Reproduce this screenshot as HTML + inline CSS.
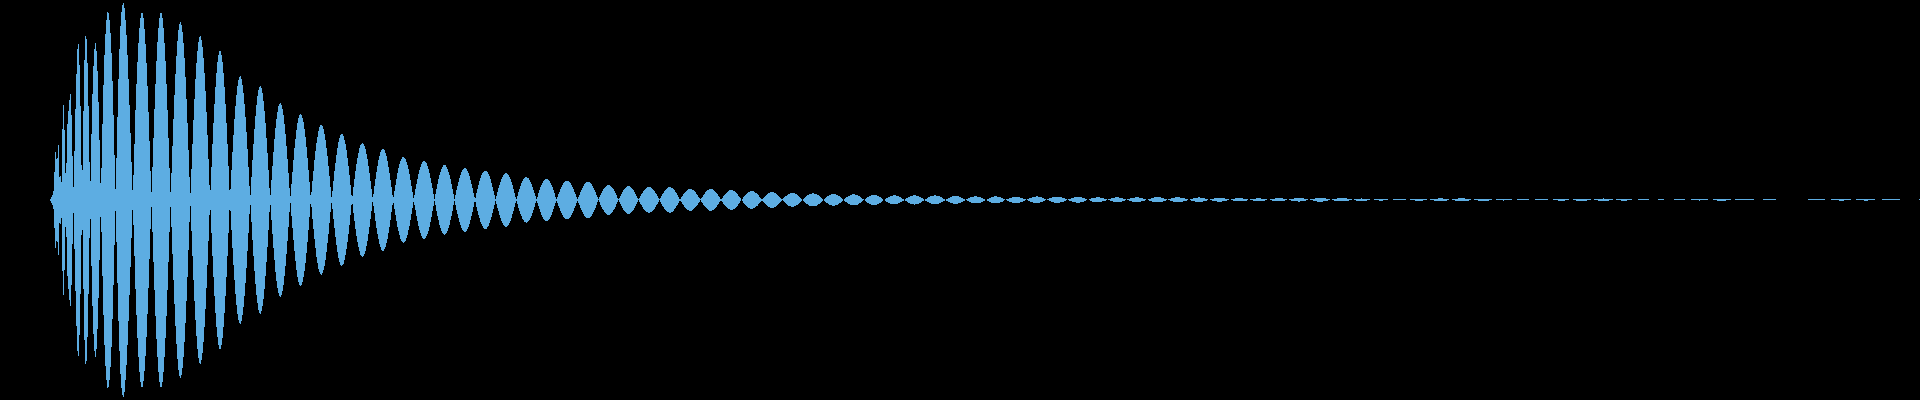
<!DOCTYPE html>
<html><head><meta charset="utf-8"><style>
html,body{margin:0;padding:0;background:#000;width:1920px;height:400px;overflow:hidden}
svg{display:block}
</style></head><body>
<svg width="1920" height="400" viewBox="0 0 1920 400" shape-rendering="crispEdges"><rect width="1920" height="400" fill="#000"/><path fill="#5DADE2" d="M50 199h1v2h-1zM51 197h1v6h-1zM52 195h1v10h-1zM53 191h1v18h-1zM54 172h1v56h-1zM55 152h1v96h-1zM56 159h1v82h-1zM57 158h1v84h-1zM58 145h1v110h-1zM59 177h1v46h-1zM60 176h1v48h-1zM61 182h1v36h-1zM62 129h1v142h-1zM63 105h1v190h-1zM64 130h1v140h-1zM65 173h1v54h-1zM66 163h1v74h-1zM67 124h1v152h-1zM68 111h1v178h-1zM69 100h1v200h-1zM70 94h1v212h-1zM71 115h1v170h-1zM72 156h1v88h-1zM73 187h1v26h-1zM74 151h1v98h-1zM75 109h1v182h-1zM76 74h1v252h-1zM77 49h1v302h-1zM78 44h1v312h-1zM79 65h1v270h-1zM80 106h1v188h-1zM81 165h1v70h-1zM82 170h1v60h-1zM83 111h1v178h-1zM84 60h1v280h-1zM85 36h1v328h-1zM86 39h1v322h-1zM87 63h1v274h-1zM88 106h1v188h-1zM89 162h1v76h-1zM90 181h1v38h-1zM91 134h1v132h-1zM92 94h1v212h-1zM93 66h1v268h-1zM94 49h1v302h-1zM95 43h1v314h-1zM96 51h1v298h-1zM97 71h1v258h-1zM98 102h1v196h-1zM99 140h1v120h-1zM100 183h1v34h-1zM101 168h1v64h-1zM102 124h1v152h-1zM103 85h1v230h-1zM104 55h1v290h-1zM105 34h1v332h-1zM106 20h1v360h-1zM107 12h1v376h-1zM108 13h1v374h-1zM109 20h1v360h-1zM110 33h1v334h-1zM111 53h1v294h-1zM112 81h1v238h-1zM113 115h1v170h-1zM114 155h1v90h-1zM115 189h1v22h-1zM116 158h1v84h-1zM117 117h1v166h-1zM118 79h1v242h-1zM119 49h1v302h-1zM120 26h1v348h-1zM121 12h1v376h-1zM122 5h1v390h-1zM123 3h1v394h-1zM124 8h1v384h-1zM125 20h1v360h-1zM126 35h1v330h-1zM127 55h1v290h-1zM128 79h1v242h-1zM129 105h1v190h-1zM130 133h1v134h-1zM131 162h1v76h-1zM132 190h1v20h-1zM133 175h1v50h-1zM134 144h1v112h-1zM135 110h1v179h-1zM136 84h1v231h-1zM137 62h1v276h-1zM138 43h1v314h-1zM139 28h1v344h-1zM140 18h1v364h-1zM141 13h1v374h-1zM142 13h1v374h-1zM143 18h1v363h-1zM144 29h1v342h-1zM145 44h1v312h-1zM146 63h1v274h-1zM147 86h1v228h-1zM148 112h1v176h-1zM149 141h1v118h-1zM150 171h1v58h-1zM151 192h1v15h-1zM152 167h1v65h-1zM153 138h1v124h-1zM154 109h1v181h-1zM155 84h1v232h-1zM156 61h1v278h-1zM157 42h1v315h-1zM158 28h1v344h-1zM159 18h1v364h-1zM160 13h1v374h-1zM161 13h1v374h-1zM162 18h1v364h-1zM163 28h1v344h-1zM164 43h1v314h-1zM165 61h1v277h-1zM166 84h1v232h-1zM167 110h1v180h-1zM168 138h1v124h-1zM169 168h1v64h-1zM170 192h1v15h-1zM171 173h1v54h-1zM172 146h1v108h-1zM173 119h1v161h-1zM174 95h1v209h-1zM175 74h1v252h-1zM176 56h1v288h-1zM177 41h1v318h-1zM178 30h1v340h-1zM179 24h1v352h-1zM180 22h1v356h-1zM181 25h1v350h-1zM182 32h1v336h-1zM183 43h1v314h-1zM184 58h1v284h-1zM185 77h1v246h-1zM186 99h1v202h-1zM187 123h1v154h-1zM188 150h1v100h-1zM189 177h1v45h-1zM190 193h1v13h-1zM191 169h1v62h-1zM192 144h1v112h-1zM193 120h1v160h-1zM194 99h1v202h-1zM195 79h1v241h-1zM196 63h1v273h-1zM197 51h1v298h-1zM198 42h1v316h-1zM199 37h1v326h-1zM200 36h1v328h-1zM201 40h1v320h-1zM202 47h1v306h-1zM203 58h1v284h-1zM204 73h1v254h-1zM205 91h1v218h-1zM206 112h1v176h-1zM207 135h1v130h-1zM208 159h1v82h-1zM209 185h1v30h-1zM210 190h1v20h-1zM211 167h1v66h-1zM212 144h1v112h-1zM213 123h1v154h-1zM214 104h1v192h-1zM215 87h1v226h-1zM216 73h1v254h-1zM217 62h1v275h-1zM218 55h1v290h-1zM219 51h1v298h-1zM220 51h1v298h-1zM221 55h1v290h-1zM222 62h1v276h-1zM223 73h1v254h-1zM224 87h1v226h-1zM225 104h1v192h-1zM226 123h1v154h-1zM227 144h1v112h-1zM228 166h1v67h-1zM229 190h1v20h-1zM230 189h1v22h-1zM231 170h1v60h-1zM232 152h1v96h-1zM233 135h1v130h-1zM234 119h1v161h-1zM235 106h1v188h-1zM236 95h1v210h-1zM237 86h1v228h-1zM238 80h1v240h-1zM239 77h1v246h-1zM240 76h1v248h-1zM241 79h1v242h-1zM242 85h1v230h-1zM243 93h1v214h-1zM244 104h1v192h-1zM245 117h1v166h-1zM246 132h1v136h-1zM247 149h1v102h-1zM248 167h1v66h-1zM249 186h1v28h-1zM250 195h1v10h-1zM251 177h1v45h-1zM252 160h1v80h-1zM253 144h1v112h-1zM254 129h1v142h-1zM255 116h1v168h-1zM256 105h1v190h-1zM257 96h1v207h-1zM258 90h1v220h-1zM259 87h1v226h-1zM260 86h1v228h-1zM261 88h1v223h-1zM262 93h1v213h-1zM263 101h1v198h-1zM264 111h1v178h-1zM265 123h1v153h-1zM266 138h1v124h-1zM267 153h1v94h-1zM268 170h1v60h-1zM269 188h1v24h-1zM270 195h1v10h-1zM271 180h1v40h-1zM272 166h1v68h-1zM273 152h1v96h-1zM274 139h1v121h-1zM275 128h1v144h-1zM276 119h1v162h-1zM277 112h1v176h-1zM278 106h1v187h-1zM279 104h1v192h-1zM280 103h1v194h-1zM281 105h1v190h-1zM282 109h1v182h-1zM283 115h1v170h-1zM284 124h1v152h-1zM285 134h1v132h-1zM286 146h1v108h-1zM287 159h1v82h-1zM288 173h1v54h-1zM289 188h1v24h-1zM290 196h1v7h-1zM291 184h1v32h-1zM292 172h1v56h-1zM293 160h1v80h-1zM294 148h1v103h-1zM295 139h1v122h-1zM296 130h1v140h-1zM297 123h1v154h-1zM298 118h1v164h-1zM299 115h1v170h-1zM300 114h1v172h-1zM301 115h1v170h-1zM302 118h1v164h-1zM303 122h1v155h-1zM304 129h1v142h-1zM305 137h1v126h-1zM306 147h1v106h-1zM307 158h1v84h-1zM308 170h1v60h-1zM309 182h1v35h-1zM310 195h1v9h-1zM311 192h1v15h-1zM312 181h1v38h-1zM313 171h1v58h-1zM314 160h1v79h-1zM315 151h1v97h-1zM316 143h1v114h-1zM317 137h1v126h-1zM318 131h1v138h-1zM319 127h1v145h-1zM320 125h1v149h-1zM321 125h1v150h-1zM322 126h1v147h-1zM323 129h1v141h-1zM324 134h1v132h-1zM325 140h1v120h-1zM326 148h1v104h-1zM327 156h1v87h-1zM328 166h1v68h-1zM329 176h1v47h-1zM330 187h1v25h-1zM331 197h1v6h-1zM332 191h1v18h-1zM333 181h1v38h-1zM334 171h1v57h-1zM335 163h1v74h-1zM336 155h1v90h-1zM337 148h1v104h-1zM338 142h1v116h-1zM339 138h1v124h-1zM340 135h1v130h-1zM341 134h1v132h-1zM342 134h1v131h-1zM343 136h1v128h-1zM344 140h1v120h-1zM345 144h1v111h-1zM346 150h1v99h-1zM347 158h1v84h-1zM348 166h1v68h-1zM349 175h1v50h-1zM350 185h1v30h-1zM351 195h1v10h-1zM352 196h1v8h-1zM353 187h1v26h-1zM354 179h1v42h-1zM355 171h1v58h-1zM356 164h1v72h-1zM357 158h1v84h-1zM358 153h1v94h-1zM359 148h1v103h-1zM360 145h1v110h-1zM361 144h1v112h-1zM362 143h1v114h-1zM363 144h1v112h-1zM364 146h1v108h-1zM365 149h1v102h-1zM366 154h1v92h-1zM367 159h1v82h-1zM368 166h1v68h-1zM369 173h1v54h-1zM370 181h1v38h-1zM371 189h1v22h-1zM372 197h1v5h-1zM373 194h1v12h-1zM374 186h1v27h-1zM375 179h1v42h-1zM376 172h1v56h-1zM377 166h1v68h-1zM378 160h1v79h-1zM379 156h1v88h-1zM380 152h1v95h-1zM381 150h1v100h-1zM382 149h1v102h-1zM383 149h1v102h-1zM384 150h1v99h-1zM385 153h1v94h-1zM386 156h1v87h-1zM387 161h1v78h-1zM388 167h1v66h-1zM389 173h1v54h-1zM390 180h1v40h-1zM391 187h1v25h-1zM392 195h1v10h-1zM393 197h1v6h-1zM394 191h1v18h-1zM395 185h1v30h-1zM396 179h1v42h-1zM397 173h1v54h-1zM398 168h1v63h-1zM399 164h1v71h-1zM400 161h1v78h-1zM401 159h1v82h-1zM402 157h1v85h-1zM403 157h1v86h-1zM404 158h1v84h-1zM405 159h1v82h-1zM406 162h1v76h-1zM407 165h1v70h-1zM408 169h1v61h-1zM409 174h1v52h-1zM410 180h1v40h-1zM411 186h1v28h-1zM412 192h1v16h-1zM413 198h1v4h-1zM414 195h1v10h-1zM415 189h1v21h-1zM416 184h1v32h-1zM417 179h1v42h-1zM418 174h1v52h-1zM419 170h1v60h-1zM420 167h1v66h-1zM421 164h1v72h-1zM422 162h1v76h-1zM423 161h1v78h-1zM424 161h1v78h-1zM425 162h1v76h-1zM426 163h1v73h-1zM427 166h1v68h-1zM428 169h1v62h-1zM429 173h1v54h-1zM430 178h1v44h-1zM431 183h1v34h-1zM432 188h1v23h-1zM433 194h1v12h-1zM434 199h1v2h-1zM435 194h1v11h-1zM436 189h1v22h-1zM437 184h1v32h-1zM438 179h1v41h-1zM439 175h1v50h-1zM440 172h1v56h-1zM441 169h1v62h-1zM442 167h1v66h-1zM443 165h1v69h-1zM444 165h1v70h-1zM445 165h1v69h-1zM446 167h1v66h-1zM447 169h1v62h-1zM448 172h1v56h-1zM449 175h1v50h-1zM450 179h1v41h-1zM451 184h1v32h-1zM452 189h1v22h-1zM453 194h1v11h-1zM454 199h1v2h-1zM455 195h1v10h-1zM456 190h1v20h-1zM457 186h1v28h-1zM458 182h1v36h-1zM459 178h1v44h-1zM460 175h1v50h-1zM461 172h1v56h-1zM462 170h1v60h-1zM463 169h1v62h-1zM464 168h1v64h-1zM465 168h1v64h-1zM466 169h1v62h-1zM467 171h1v58h-1zM468 173h1v54h-1zM469 176h1v48h-1zM470 180h1v40h-1zM471 184h1v32h-1zM472 188h1v24h-1zM473 193h1v14h-1zM474 197h1v5h-1zM475 198h1v4h-1zM476 193h1v14h-1zM477 189h1v22h-1zM478 185h1v30h-1zM479 181h1v37h-1zM480 178h1v44h-1zM481 175h1v49h-1zM482 173h1v53h-1zM483 172h1v56h-1zM484 171h1v58h-1zM485 171h1v58h-1zM486 171h1v58h-1zM487 172h1v55h-1zM488 174h1v52h-1zM489 176h1v47h-1zM490 179h1v41h-1zM491 183h1v34h-1zM492 187h1v26h-1zM493 191h1v18h-1zM494 195h1v10h-1zM495 199h1v2h-1zM496 196h1v8h-1zM497 192h1v16h-1zM498 188h1v23h-1zM499 185h1v30h-1zM500 182h1v36h-1zM501 179h1v42h-1zM502 177h1v46h-1zM503 175h1v50h-1zM504 174h1v52h-1zM505 173h1v54h-1zM506 173h1v54h-1zM507 174h1v52h-1zM508 175h1v50h-1zM509 177h1v46h-1zM510 179h1v42h-1zM511 182h1v36h-1zM512 185h1v29h-1zM513 189h1v22h-1zM514 193h1v14h-1zM515 197h1v6h-1zM516 199h1v2h-1zM517 196h1v8h-1zM518 192h1v16h-1zM519 189h1v22h-1zM520 186h1v28h-1zM521 183h1v33h-1zM522 181h1v38h-1zM523 179h1v41h-1zM524 178h1v44h-1zM525 177h1v45h-1zM526 177h1v46h-1zM527 178h1v44h-1zM528 178h1v43h-1zM529 180h1v40h-1zM530 182h1v36h-1zM531 184h1v32h-1zM532 187h1v26h-1zM533 190h1v20h-1zM534 193h1v14h-1zM535 196h1v7h-1zM536 199h1v2h-1zM537 197h1v6h-1zM538 193h1v13h-1zM539 190h1v19h-1zM540 187h1v25h-1zM541 185h1v30h-1zM542 183h1v34h-1zM543 181h1v38h-1zM544 180h1v40h-1zM545 179h1v42h-1zM546 179h1v42h-1zM547 179h1v42h-1zM548 180h1v40h-1zM549 181h1v38h-1zM550 183h1v34h-1zM551 185h1v30h-1zM552 187h1v25h-1zM553 190h1v19h-1zM554 193h1v13h-1zM555 197h1v6h-1zM556 199h1v2h-1zM557 197h1v6h-1zM558 194h1v12h-1zM559 192h1v16h-1zM560 189h1v22h-1zM561 187h1v26h-1zM562 185h1v30h-1zM563 183h1v34h-1zM564 182h1v36h-1zM565 181h1v38h-1zM566 181h1v38h-1zM567 181h1v38h-1zM568 181h1v38h-1zM569 182h1v36h-1zM570 183h1v34h-1zM571 185h1v30h-1zM572 187h1v26h-1zM573 189h1v22h-1zM574 192h1v16h-1zM575 194h1v12h-1zM576 197h1v6h-1zM577 199h1v2h-1zM578 197h1v6h-1zM579 195h1v10h-1zM580 192h1v16h-1zM581 190h1v20h-1zM582 188h1v24h-1zM583 186h1v28h-1zM584 184h1v32h-1zM585 183h1v34h-1zM586 182h1v36h-1zM587 182h1v36h-1zM588 182h1v36h-1zM589 182h1v36h-1zM590 183h1v34h-1zM591 184h1v32h-1zM592 186h1v28h-1zM593 188h1v24h-1zM594 190h1v20h-1zM595 192h1v16h-1zM596 195h1v10h-1zM597 197h1v5h-1zM598 199h1v1h-1zM599 197h1v5h-1zM600 195h1v10h-1zM601 193h1v14h-1zM602 191h1v18h-1zM603 189h1v21h-1zM604 188h1v24h-1zM605 187h1v26h-1zM606 186h1v28h-1zM607 185h1v30h-1zM608 185h1v30h-1zM609 185h1v30h-1zM610 186h1v28h-1zM611 187h1v26h-1zM612 188h1v24h-1zM613 189h1v21h-1zM614 191h1v18h-1zM615 193h1v14h-1zM616 195h1v9h-1zM617 198h1v4h-1zM618 199h1v1h-1zM619 198h1v4h-1zM620 196h1v8h-1zM621 194h1v12h-1zM622 192h1v16h-1zM623 190h1v20h-1zM624 189h1v22h-1zM625 188h1v24h-1zM626 187h1v26h-1zM627 186h1v28h-1zM628 186h1v28h-1zM629 186h1v28h-1zM630 187h1v26h-1zM631 188h1v24h-1zM632 189h1v22h-1zM633 190h1v20h-1zM634 192h1v16h-1zM635 194h1v12h-1zM636 196h1v8h-1zM637 198h1v4h-1zM638 199h1v1h-1zM639 198h1v4h-1zM640 196h1v8h-1zM641 194h1v11h-1zM642 193h1v14h-1zM643 191h1v18h-1zM644 190h1v20h-1zM645 189h1v22h-1zM646 188h1v24h-1zM647 187h1v25h-1zM648 187h1v26h-1zM649 187h1v26h-1zM650 187h1v25h-1zM651 188h1v24h-1zM652 189h1v22h-1zM653 190h1v20h-1zM654 191h1v18h-1zM655 193h1v14h-1zM656 194h1v11h-1zM657 196h1v8h-1zM658 198h1v4h-1zM659 199h1v1h-1zM660 198h1v4h-1zM661 196h1v8h-1zM662 194h1v12h-1zM663 193h1v14h-1zM664 191h1v18h-1zM665 190h1v20h-1zM666 189h1v22h-1zM667 188h1v24h-1zM668 187h1v25h-1zM669 187h1v26h-1zM670 187h1v26h-1zM671 188h1v24h-1zM672 188h1v24h-1zM673 189h1v22h-1zM674 190h1v19h-1zM675 192h1v16h-1zM676 193h1v13h-1zM677 195h1v10h-1zM678 197h1v6h-1zM679 199h1v2h-1zM680 199h1v2h-1zM681 197h1v5h-1zM682 196h1v8h-1zM683 194h1v11h-1zM684 193h1v14h-1zM685 192h1v16h-1zM686 191h1v18h-1zM687 190h1v20h-1zM688 189h1v21h-1zM689 189h1v22h-1zM690 189h1v22h-1zM691 189h1v22h-1zM692 190h1v20h-1zM693 190h1v19h-1zM694 191h1v17h-1zM695 192h1v15h-1zM696 194h1v12h-1zM697 195h1v10h-1zM698 197h1v6h-1zM699 198h1v4h-1zM700 199h1v1h-1zM701 198h1v4h-1zM702 197h1v6h-1zM703 195h1v10h-1zM704 194h1v12h-1zM705 192h1v15h-1zM706 191h1v17h-1zM707 190h1v19h-1zM708 190h1v20h-1zM709 189h1v22h-1zM710 189h1v22h-1zM711 189h1v22h-1zM712 189h1v21h-1zM713 190h1v20h-1zM714 191h1v18h-1zM715 192h1v16h-1zM716 193h1v14h-1zM717 194h1v11h-1zM718 196h1v8h-1zM719 197h1v5h-1zM720 199h1v2h-1zM721 199h1v2h-1zM722 198h1v4h-1zM723 196h1v8h-1zM724 195h1v10h-1zM725 194h1v12h-1zM726 193h1v14h-1zM727 192h1v16h-1zM728 191h1v18h-1zM729 190h1v19h-1zM730 190h1v20h-1zM731 190h1v20h-1zM732 190h1v20h-1zM733 191h1v18h-1zM734 191h1v18h-1zM735 192h1v16h-1zM736 193h1v14h-1zM737 194h1v12h-1zM738 196h1v8h-1zM739 197h1v6h-1zM740 198h1v3h-1zM742 199h1v2h-1zM743 197h1v6h-1zM744 196h1v8h-1zM745 195h1v10h-1zM746 194h1v12h-1zM747 193h1v14h-1zM748 192h1v16h-1zM749 192h1v16h-1zM750 191h1v18h-1zM751 191h1v18h-1zM752 191h1v18h-1zM753 191h1v17h-1zM754 192h1v16h-1zM755 193h1v14h-1zM756 193h1v13h-1zM757 194h1v12h-1zM758 195h1v9h-1zM759 197h1v6h-1zM760 198h1v4h-1zM761 199h1v2h-1zM762 199h1v2h-1zM763 198h1v4h-1zM764 197h1v6h-1zM765 196h1v8h-1zM766 195h1v10h-1zM767 194h1v12h-1zM768 193h1v14h-1zM769 193h1v14h-1zM770 192h1v16h-1zM771 192h1v16h-1zM772 192h1v16h-1zM773 192h1v16h-1zM774 193h1v14h-1zM775 193h1v14h-1zM776 194h1v12h-1zM777 195h1v10h-1zM778 196h1v8h-1zM779 197h1v6h-1zM780 198h1v4h-1zM781 199h1v2h-1zM782 199h1v1h-1zM783 198h1v3h-1zM784 197h1v5h-1zM785 196h1v7h-1zM786 196h1v8h-1zM787 195h1v10h-1zM788 194h1v12h-1zM789 194h1v12h-1zM790 193h1v13h-1zM791 193h1v14h-1zM792 193h1v14h-1zM793 193h1v14h-1zM794 193h1v13h-1zM795 194h1v12h-1zM796 194h1v11h-1zM797 195h1v10h-1zM798 196h1v8h-1zM799 197h1v6h-1zM800 198h1v4h-1zM801 199h1v2h-1zM803 199h1v2h-1zM804 198h1v4h-1zM805 197h1v6h-1zM806 196h1v8h-1zM807 195h1v9h-1zM808 195h1v10h-1zM809 194h1v12h-1zM810 194h1v12h-1zM811 194h1v12h-1zM812 193h1v13h-1zM813 193h1v13h-1zM814 194h1v12h-1zM815 194h1v12h-1zM816 194h1v12h-1zM817 195h1v10h-1zM818 195h1v9h-1zM819 196h1v8h-1zM820 197h1v6h-1zM821 198h1v4h-1zM822 199h1v2h-1zM824 199h1v2h-1zM825 198h1v4h-1zM826 197h1v6h-1zM827 196h1v7h-1zM828 196h1v8h-1zM829 195h1v10h-1zM830 195h1v10h-1zM831 194h1v11h-1zM832 194h1v12h-1zM833 194h1v12h-1zM834 194h1v12h-1zM835 194h1v11h-1zM836 195h1v10h-1zM837 195h1v10h-1zM838 196h1v8h-1zM839 196h1v7h-1zM840 197h1v6h-1zM841 198h1v4h-1zM842 199h1v2h-1zM844 199h1v2h-1zM845 198h1v4h-1zM846 197h1v5h-1zM847 197h1v6h-1zM848 196h1v8h-1zM849 196h1v8h-1zM850 195h1v10h-1zM851 195h1v10h-1zM852 194h1v11h-1zM853 194h1v11h-1zM854 194h1v11h-1zM855 195h1v10h-1zM856 195h1v10h-1zM857 195h1v10h-1zM858 196h1v8h-1zM859 196h1v7h-1zM860 197h1v6h-1zM861 198h1v4h-1zM862 199h1v2h-1zM863 199h1v1h-1zM865 199h1v2h-1zM866 198h1v4h-1zM867 197h1v6h-1zM868 197h1v6h-1zM869 196h1v8h-1zM870 196h1v8h-1zM871 195h1v10h-1zM872 195h1v10h-1zM873 195h1v10h-1zM874 195h1v10h-1zM875 195h1v10h-1zM876 195h1v10h-1zM877 196h1v8h-1zM878 196h1v8h-1zM879 197h1v6h-1zM880 197h1v6h-1zM881 198h1v4h-1zM882 199h1v2h-1zM885 199h1v2h-1zM886 198h1v4h-1zM887 198h1v4h-1zM888 197h1v6h-1zM889 197h1v6h-1zM890 196h1v8h-1zM891 196h1v8h-1zM892 196h1v8h-1zM893 195h1v9h-1zM894 195h1v9h-1zM895 195h1v9h-1zM896 196h1v8h-1zM897 196h1v8h-1zM898 196h1v7h-1zM899 197h1v6h-1zM900 197h1v5h-1zM901 198h1v4h-1zM902 199h1v2h-1zM903 199h1v2h-1zM905 199h1v2h-1zM906 198h1v3h-1zM907 198h1v4h-1zM908 197h1v6h-1zM909 197h1v6h-1zM910 196h1v8h-1zM911 196h1v8h-1zM912 196h1v8h-1zM913 195h1v9h-1zM914 195h1v10h-1zM915 195h1v9h-1zM916 196h1v8h-1zM917 196h1v8h-1zM918 196h1v8h-1zM919 197h1v6h-1zM920 197h1v6h-1zM921 198h1v4h-1zM922 198h1v3h-1zM923 199h1v2h-1zM925 199h1v2h-1zM926 199h1v2h-1zM927 198h1v4h-1zM928 197h1v5h-1zM929 197h1v6h-1zM930 196h1v7h-1zM931 196h1v8h-1zM932 196h1v8h-1zM933 196h1v8h-1zM934 195h1v9h-1zM935 195h1v9h-1zM936 196h1v8h-1zM937 196h1v8h-1zM938 196h1v8h-1zM939 196h1v7h-1zM940 197h1v6h-1zM941 197h1v5h-1zM942 198h1v4h-1zM943 199h1v2h-1zM944 199h1v2h-1zM946 199h1v2h-1zM947 199h1v2h-1zM948 198h1v4h-1zM949 198h1v4h-1zM950 197h1v6h-1zM951 197h1v6h-1zM952 196h1v7h-1zM953 196h1v8h-1zM954 196h1v8h-1zM955 196h1v8h-1zM956 196h1v8h-1zM957 196h1v8h-1zM958 196h1v7h-1zM959 197h1v6h-1zM960 197h1v6h-1zM961 198h1v4h-1zM962 198h1v4h-1zM963 199h1v2h-1zM964 199h1v2h-1zM966 199h1v1h-1zM967 199h1v2h-1zM968 198h1v3h-1zM969 198h1v4h-1zM970 197h1v5h-1zM971 197h1v6h-1zM972 197h1v6h-1zM973 197h1v6h-1zM974 196h1v7h-1zM975 196h1v7h-1zM976 196h1v7h-1zM977 197h1v6h-1zM978 197h1v6h-1zM979 197h1v6h-1zM980 197h1v6h-1zM981 198h1v4h-1zM982 198h1v4h-1zM983 199h1v2h-1zM984 199h1v2h-1zM987 199h1v2h-1zM988 199h1v2h-1zM989 198h1v4h-1zM990 198h1v4h-1zM991 197h1v6h-1zM992 197h1v6h-1zM993 197h1v6h-1zM994 196h1v7h-1zM995 196h1v7h-1zM996 196h1v7h-1zM997 197h1v6h-1zM998 197h1v6h-1zM999 197h1v6h-1zM1000 197h1v5h-1zM1001 198h1v4h-1zM1002 198h1v4h-1zM1003 199h1v2h-1zM1004 199h1v1h-1zM1006 199h1v1h-1zM1007 199h1v2h-1zM1008 199h1v2h-1zM1009 198h1v4h-1zM1010 198h1v4h-1zM1011 198h1v4h-1zM1012 197h1v6h-1zM1013 197h1v6h-1zM1014 197h1v6h-1zM1015 197h1v6h-1zM1016 197h1v6h-1zM1017 197h1v6h-1zM1018 197h1v6h-1zM1019 197h1v6h-1zM1020 198h1v4h-1zM1021 198h1v4h-1zM1022 198h1v4h-1zM1023 199h1v2h-1zM1024 199h1v2h-1zM1025 199h1v1h-1zM1027 199h1v1h-1zM1028 199h1v2h-1zM1029 198h1v3h-1zM1030 198h1v4h-1zM1031 198h1v4h-1zM1032 197h1v5h-1zM1033 197h1v6h-1zM1034 197h1v6h-1zM1035 197h1v6h-1zM1036 196h1v7h-1zM1037 196h1v7h-1zM1038 197h1v6h-1zM1039 197h1v6h-1zM1040 197h1v5h-1zM1041 197h1v5h-1zM1042 198h1v4h-1zM1043 198h1v3h-1zM1044 199h1v2h-1zM1045 199h1v1h-1zM1047 199h1v1h-1zM1048 199h1v1h-1zM1049 198h1v3h-1zM1050 198h1v3h-1zM1051 198h1v4h-1zM1052 197h1v5h-1zM1053 197h1v5h-1zM1054 197h1v6h-1zM1055 197h1v6h-1zM1056 197h1v6h-1zM1057 197h1v6h-1zM1058 197h1v6h-1zM1059 197h1v6h-1zM1060 197h1v5h-1zM1061 197h1v5h-1zM1062 198h1v4h-1zM1063 198h1v4h-1zM1064 198h1v3h-1zM1065 199h1v2h-1zM1066 199h1v1h-1zM1068 199h1v1h-1zM1069 199h1v2h-1zM1070 199h1v2h-1zM1071 198h1v3h-1zM1072 198h1v4h-1zM1073 198h1v4h-1zM1074 197h1v5h-1zM1075 197h1v5h-1zM1076 197h1v6h-1zM1077 197h1v6h-1zM1078 197h1v6h-1zM1079 197h1v6h-1zM1080 197h1v5h-1zM1081 197h1v5h-1zM1082 198h1v4h-1zM1083 198h1v4h-1zM1084 198h1v3h-1zM1085 199h1v2h-1zM1086 199h1v1h-1zM1089 199h1v1h-1zM1090 199h1v2h-1zM1091 198h1v3h-1zM1092 198h1v4h-1zM1093 198h1v4h-1zM1094 198h1v4h-1zM1095 198h1v4h-1zM1096 197h1v5h-1zM1097 197h1v5h-1zM1098 197h1v5h-1zM1099 197h1v5h-1zM1100 198h1v4h-1zM1101 198h1v4h-1zM1102 198h1v3h-1zM1103 198h1v3h-1zM1104 199h1v2h-1zM1105 199h1v2h-1zM1106 199h1v1h-1zM1108 199h1v1h-1zM1109 199h1v1h-1zM1110 199h1v2h-1zM1111 198h1v3h-1zM1112 198h1v3h-1zM1113 198h1v4h-1zM1114 198h1v4h-1zM1115 197h1v5h-1zM1116 197h1v5h-1zM1117 197h1v5h-1zM1118 197h1v5h-1zM1119 198h1v4h-1zM1120 198h1v4h-1zM1121 198h1v4h-1zM1122 198h1v3h-1zM1123 199h1v2h-1zM1124 199h1v2h-1zM1125 199h1v1h-1zM1127 199h1v1h-1zM1128 199h1v1h-1zM1129 199h1v2h-1zM1130 198h1v3h-1zM1131 198h1v3h-1zM1132 198h1v4h-1zM1133 198h1v4h-1zM1134 198h1v4h-1zM1135 197h1v5h-1zM1136 197h1v5h-1zM1137 197h1v5h-1zM1138 197h1v5h-1zM1139 198h1v4h-1zM1140 198h1v4h-1zM1141 198h1v3h-1zM1142 198h1v3h-1zM1143 199h1v2h-1zM1144 199h1v2h-1zM1145 199h1v1h-1zM1148 199h1v1h-1zM1149 199h1v2h-1zM1150 199h1v2h-1zM1151 198h1v3h-1zM1152 198h1v4h-1zM1153 198h1v4h-1zM1154 197h1v5h-1zM1155 197h1v5h-1zM1156 197h1v5h-1zM1157 197h1v5h-1zM1158 197h1v5h-1zM1159 197h1v5h-1zM1160 197h1v5h-1zM1161 198h1v4h-1zM1162 198h1v4h-1zM1163 198h1v3h-1zM1164 199h1v2h-1zM1165 199h1v2h-1zM1166 199h1v1h-1zM1168 199h1v1h-1zM1169 199h1v1h-1zM1170 199h1v2h-1zM1171 198h1v3h-1zM1172 198h1v3h-1zM1173 198h1v4h-1zM1174 198h1v4h-1zM1175 197h1v5h-1zM1176 197h1v5h-1zM1177 197h1v5h-1zM1178 197h1v5h-1zM1179 197h1v5h-1zM1180 198h1v4h-1zM1181 198h1v4h-1zM1182 198h1v4h-1zM1183 198h1v3h-1zM1184 198h1v3h-1zM1185 199h1v2h-1zM1186 199h1v2h-1zM1187 199h1v1h-1zM1190 199h1v1h-1zM1191 199h1v2h-1zM1192 199h1v2h-1zM1193 198h1v3h-1zM1194 198h1v3h-1zM1195 198h1v4h-1zM1196 198h1v4h-1zM1197 198h1v4h-1zM1198 197h1v5h-1zM1199 197h1v5h-1zM1200 198h1v4h-1zM1201 198h1v4h-1zM1202 198h1v4h-1zM1203 198h1v3h-1zM1204 198h1v3h-1zM1205 199h1v2h-1zM1206 199h1v2h-1zM1207 199h1v1h-1zM1210 199h1v1h-1zM1211 199h1v1h-1zM1212 199h1v2h-1zM1213 199h1v2h-1zM1214 198h1v3h-1zM1215 198h1v3h-1zM1216 198h1v3h-1zM1217 198h1v4h-1zM1218 198h1v4h-1zM1219 198h1v4h-1zM1220 198h1v4h-1zM1221 198h1v4h-1zM1222 198h1v3h-1zM1223 198h1v3h-1zM1224 198h1v3h-1zM1225 199h1v2h-1zM1226 199h1v2h-1zM1227 199h1v1h-1zM1228 199h1v1h-1zM1231 199h1v1h-1zM1232 199h1v1h-1zM1233 199h1v2h-1zM1234 199h1v2h-1zM1235 198h1v3h-1zM1236 198h1v3h-1zM1237 198h1v3h-1zM1238 198h1v3h-1zM1239 198h1v3h-1zM1240 198h1v3h-1zM1241 198h1v3h-1zM1242 198h1v3h-1zM1243 199h1v2h-1zM1244 199h1v2h-1zM1245 199h1v2h-1zM1246 199h1v2h-1zM1247 199h1v1h-1zM1250 199h1v1h-1zM1251 199h1v1h-1zM1252 199h1v1h-1zM1253 199h1v2h-1zM1254 199h1v2h-1zM1255 199h1v2h-1zM1256 198h1v3h-1zM1257 198h1v3h-1zM1258 198h1v3h-1zM1259 198h1v3h-1zM1260 198h1v3h-1zM1261 199h1v2h-1zM1262 199h1v2h-1zM1263 199h1v2h-1zM1264 199h1v2h-1zM1265 199h1v1h-1zM1266 199h1v1h-1zM1270 199h1v1h-1zM1271 199h1v1h-1zM1272 199h1v2h-1zM1273 199h1v2h-1zM1274 199h1v2h-1zM1275 198h1v3h-1zM1276 198h1v3h-1zM1277 198h1v3h-1zM1278 198h1v3h-1zM1279 198h1v3h-1zM1280 198h1v3h-1zM1281 198h1v3h-1zM1282 198h1v3h-1zM1283 199h1v2h-1zM1284 199h1v2h-1zM1285 199h1v1h-1zM1286 199h1v1h-1zM1289 199h1v1h-1zM1290 199h1v1h-1zM1291 199h1v2h-1zM1292 199h1v2h-1zM1293 199h1v2h-1zM1294 198h1v3h-1zM1295 198h1v3h-1zM1296 198h1v3h-1zM1297 198h1v3h-1zM1298 198h1v4h-1zM1299 198h1v4h-1zM1300 198h1v3h-1zM1301 198h1v3h-1zM1302 198h1v3h-1zM1303 198h1v3h-1zM1304 199h1v2h-1zM1305 199h1v2h-1zM1306 199h1v1h-1zM1307 199h1v1h-1zM1310 199h1v1h-1zM1311 199h1v1h-1zM1312 199h1v1h-1zM1313 199h1v2h-1zM1314 199h1v2h-1zM1315 198h1v3h-1zM1316 198h1v3h-1zM1317 198h1v4h-1zM1318 198h1v4h-1zM1319 198h1v4h-1zM1320 198h1v4h-1zM1321 198h1v4h-1zM1322 198h1v4h-1zM1323 198h1v3h-1zM1324 198h1v3h-1zM1325 198h1v3h-1zM1326 199h1v2h-1zM1327 199h1v2h-1zM1328 199h1v1h-1zM1329 199h1v1h-1zM1332 199h1v1h-1zM1333 199h1v1h-1zM1334 199h1v2h-1zM1335 199h1v2h-1zM1336 199h1v2h-1zM1337 198h1v3h-1zM1338 198h1v3h-1zM1339 198h1v3h-1zM1340 198h1v3h-1zM1341 198h1v3h-1zM1342 198h1v3h-1zM1343 198h1v3h-1zM1344 198h1v3h-1zM1345 198h1v3h-1zM1346 198h1v3h-1zM1347 199h1v2h-1zM1348 199h1v2h-1zM1349 199h1v1h-1zM1350 199h1v1h-1zM1351 199h1v1h-1zM1354 199h1v1h-1zM1355 199h1v1h-1zM1356 199h1v2h-1zM1357 199h1v2h-1zM1358 199h1v2h-1zM1359 199h1v2h-1zM1360 199h1v2h-1zM1361 198h1v3h-1zM1362 199h1v2h-1zM1363 199h1v2h-1zM1364 199h1v2h-1zM1365 199h1v2h-1zM1366 199h1v2h-1zM1367 199h1v1h-1zM1368 199h1v1h-1zM1369 199h1v1h-1zM1374 199h1v1h-1zM1375 199h1v1h-1zM1376 199h1v1h-1zM1377 199h1v1h-1zM1378 199h1v1h-1zM1379 199h1v2h-1zM1380 199h1v2h-1zM1381 199h1v2h-1zM1382 199h1v2h-1zM1383 199h1v1h-1zM1384 199h1v1h-1zM1385 199h1v1h-1zM1386 199h1v1h-1zM1387 199h1v1h-1zM1393 199h1v1h-1zM1394 199h1v1h-1zM1395 199h1v1h-1zM1396 199h1v1h-1zM1397 199h1v1h-1zM1398 199h1v1h-1zM1399 199h1v1h-1zM1400 199h1v1h-1zM1401 199h1v1h-1zM1402 199h1v1h-1zM1403 199h1v1h-1zM1404 199h1v1h-1zM1405 199h1v1h-1zM1410 199h1v1h-1zM1411 199h1v1h-1zM1412 199h1v1h-1zM1413 199h1v1h-1zM1414 199h1v1h-1zM1415 199h1v2h-1zM1416 199h1v2h-1zM1417 199h1v2h-1zM1418 199h1v2h-1zM1419 199h1v2h-1zM1420 199h1v2h-1zM1421 199h1v2h-1zM1422 199h1v2h-1zM1423 199h1v1h-1zM1424 199h1v1h-1zM1425 199h1v1h-1zM1426 199h1v1h-1zM1430 199h1v1h-1zM1431 199h1v1h-1zM1432 199h1v1h-1zM1433 199h1v1h-1zM1434 199h1v2h-1zM1435 199h1v2h-1zM1436 199h1v2h-1zM1437 199h1v2h-1zM1438 198h1v3h-1zM1439 198h1v3h-1zM1440 198h1v3h-1zM1441 198h1v3h-1zM1442 198h1v3h-1zM1443 199h1v2h-1zM1444 199h1v2h-1zM1445 199h1v2h-1zM1446 199h1v2h-1zM1447 199h1v1h-1zM1448 199h1v1h-1zM1452 199h1v1h-1zM1453 199h1v1h-1zM1454 199h1v1h-1zM1455 199h1v2h-1zM1456 199h1v2h-1zM1457 199h1v2h-1zM1458 198h1v3h-1zM1459 198h1v3h-1zM1460 198h1v3h-1zM1461 198h1v3h-1zM1462 198h1v3h-1zM1463 198h1v3h-1zM1464 198h1v3h-1zM1465 199h1v2h-1zM1466 199h1v2h-1zM1467 199h1v2h-1zM1468 199h1v2h-1zM1469 199h1v1h-1zM1470 199h1v1h-1zM1474 199h1v1h-1zM1475 199h1v1h-1zM1476 199h1v1h-1zM1477 199h1v1h-1zM1478 199h1v2h-1zM1479 199h1v2h-1zM1480 199h1v2h-1zM1481 199h1v2h-1zM1482 199h1v2h-1zM1483 199h1v2h-1zM1484 199h1v2h-1zM1485 199h1v2h-1zM1486 199h1v2h-1zM1487 199h1v2h-1zM1488 199h1v2h-1zM1489 199h1v1h-1zM1490 199h1v1h-1zM1491 199h1v1h-1zM1496 199h1v1h-1zM1497 199h1v1h-1zM1498 199h1v1h-1zM1499 199h1v1h-1zM1500 199h1v1h-1zM1501 199h1v1h-1zM1502 199h1v1h-1zM1503 199h1v2h-1zM1504 199h1v1h-1zM1505 199h1v1h-1zM1506 199h1v1h-1zM1507 199h1v1h-1zM1508 199h1v1h-1zM1509 199h1v1h-1zM1510 199h1v1h-1zM1511 199h1v1h-1zM1517 199h1v1h-1zM1518 199h1v1h-1zM1519 199h1v1h-1zM1520 199h1v1h-1zM1521 199h1v1h-1zM1522 199h1v1h-1zM1523 199h1v1h-1zM1524 199h1v1h-1zM1525 199h1v1h-1zM1526 199h1v1h-1zM1527 199h1v1h-1zM1528 199h1v1h-1zM1535 199h1v1h-1zM1536 199h1v1h-1zM1537 199h1v1h-1zM1538 199h1v1h-1zM1539 199h1v1h-1zM1540 199h1v1h-1zM1541 199h1v1h-1zM1542 199h1v1h-1zM1543 199h1v1h-1zM1544 199h1v1h-1zM1545 199h1v1h-1zM1546 199h1v1h-1zM1547 199h1v1h-1zM1553 199h1v1h-1zM1554 199h1v1h-1zM1555 199h1v1h-1zM1556 199h1v1h-1zM1557 199h1v1h-1zM1558 199h1v2h-1zM1559 199h1v2h-1zM1560 199h1v2h-1zM1561 199h1v2h-1zM1562 199h1v2h-1zM1563 199h1v2h-1zM1564 199h1v2h-1zM1565 199h1v1h-1zM1566 199h1v1h-1zM1567 199h1v1h-1zM1568 199h1v1h-1zM1573 199h1v1h-1zM1574 199h1v1h-1zM1575 199h1v1h-1zM1576 199h1v2h-1zM1577 199h1v2h-1zM1578 199h1v2h-1zM1579 199h1v2h-1zM1580 199h1v2h-1zM1581 199h1v2h-1zM1582 199h1v2h-1zM1583 199h1v2h-1zM1584 199h1v2h-1zM1585 199h1v2h-1zM1586 199h1v2h-1zM1587 199h1v1h-1zM1588 199h1v1h-1zM1589 199h1v1h-1zM1590 199h1v1h-1zM1594 199h1v1h-1zM1595 199h1v1h-1zM1596 199h1v1h-1zM1597 199h1v1h-1zM1598 199h1v2h-1zM1599 199h1v2h-1zM1600 199h1v2h-1zM1601 199h1v2h-1zM1602 199h1v2h-1zM1603 198h1v3h-1zM1604 199h1v2h-1zM1605 199h1v2h-1zM1606 199h1v2h-1zM1607 199h1v2h-1zM1608 199h1v2h-1zM1609 199h1v1h-1zM1610 199h1v1h-1zM1611 199h1v1h-1zM1612 199h1v1h-1zM1616 199h1v1h-1zM1617 199h1v1h-1zM1618 199h1v1h-1zM1619 199h1v1h-1zM1620 199h1v1h-1zM1621 199h1v2h-1zM1622 199h1v2h-1zM1623 199h1v2h-1zM1624 199h1v2h-1zM1625 199h1v2h-1zM1626 199h1v2h-1zM1627 199h1v1h-1zM1628 199h1v1h-1zM1629 199h1v1h-1zM1630 199h1v1h-1zM1631 199h1v1h-1zM1638 199h1v1h-1zM1639 199h1v1h-1zM1640 199h1v1h-1zM1641 199h1v1h-1zM1642 199h1v1h-1zM1643 199h1v1h-1zM1644 199h1v1h-1zM1645 199h1v1h-1zM1646 199h1v1h-1zM1647 199h1v1h-1zM1648 199h1v1h-1zM1658 199h1v1h-1zM1659 199h1v1h-1zM1660 199h1v1h-1zM1661 199h1v1h-1zM1662 199h1v1h-1zM1663 199h1v1h-1zM1674 199h1v1h-1zM1675 199h1v1h-1zM1676 199h1v1h-1zM1677 199h1v1h-1zM1678 199h1v1h-1zM1679 199h1v1h-1zM1680 199h1v1h-1zM1681 199h1v1h-1zM1682 199h1v1h-1zM1683 199h1v1h-1zM1684 199h1v1h-1zM1691 199h1v1h-1zM1692 199h1v1h-1zM1693 199h1v1h-1zM1694 199h1v1h-1zM1695 199h1v1h-1zM1696 199h1v1h-1zM1697 199h1v1h-1zM1698 199h1v1h-1zM1699 199h1v2h-1zM1700 199h1v1h-1zM1701 199h1v1h-1zM1702 199h1v1h-1zM1703 199h1v1h-1zM1704 199h1v1h-1zM1705 199h1v1h-1zM1706 199h1v1h-1zM1707 199h1v1h-1zM1713 199h1v1h-1zM1714 199h1v1h-1zM1715 199h1v1h-1zM1716 199h1v1h-1zM1717 199h1v2h-1zM1718 199h1v2h-1zM1719 199h1v2h-1zM1720 199h1v2h-1zM1721 199h1v2h-1zM1722 199h1v2h-1zM1723 199h1v2h-1zM1724 199h1v2h-1zM1725 199h1v2h-1zM1726 199h1v1h-1zM1727 199h1v1h-1zM1728 199h1v1h-1zM1729 199h1v1h-1zM1730 199h1v1h-1zM1735 199h1v1h-1zM1736 199h1v1h-1zM1737 199h1v1h-1zM1738 199h1v1h-1zM1739 199h1v1h-1zM1740 199h1v1h-1zM1741 199h1v1h-1zM1742 199h1v1h-1zM1743 199h1v1h-1zM1744 199h1v1h-1zM1745 199h1v1h-1zM1746 199h1v1h-1zM1747 199h1v1h-1zM1748 199h1v1h-1zM1749 199h1v1h-1zM1750 199h1v1h-1zM1751 199h1v1h-1zM1752 199h1v1h-1zM1753 199h1v1h-1zM1763 199h1v1h-1zM1764 199h1v1h-1zM1765 199h1v1h-1zM1766 199h1v1h-1zM1767 199h1v1h-1zM1768 199h1v1h-1zM1769 199h1v1h-1zM1770 199h1v1h-1zM1771 199h1v1h-1zM1772 199h1v1h-1zM1773 199h1v1h-1zM1774 199h1v1h-1zM1775 199h1v1h-1zM1808 199h1v1h-1zM1809 199h1v1h-1zM1810 199h1v1h-1zM1811 199h1v1h-1zM1812 199h1v1h-1zM1813 199h1v1h-1zM1814 199h1v1h-1zM1815 199h1v1h-1zM1816 199h1v1h-1zM1817 199h1v1h-1zM1818 199h1v1h-1zM1819 199h1v1h-1zM1820 199h1v1h-1zM1821 199h1v1h-1zM1822 199h1v1h-1zM1823 199h1v1h-1zM1824 199h1v1h-1zM1831 199h1v1h-1zM1832 199h1v1h-1zM1833 199h1v1h-1zM1834 199h1v1h-1zM1835 199h1v1h-1zM1836 199h1v1h-1zM1837 199h1v1h-1zM1838 199h1v1h-1zM1839 199h1v2h-1zM1840 199h1v2h-1zM1841 199h1v2h-1zM1842 199h1v2h-1zM1843 199h1v2h-1zM1844 199h1v1h-1zM1845 199h1v1h-1zM1846 199h1v1h-1zM1847 199h1v1h-1zM1848 199h1v1h-1zM1849 199h1v1h-1zM1850 199h1v1h-1zM1856 199h1v1h-1zM1857 199h1v1h-1zM1858 199h1v1h-1zM1859 199h1v1h-1zM1860 199h1v1h-1zM1861 199h1v1h-1zM1862 199h1v1h-1zM1863 199h1v1h-1zM1864 199h1v2h-1zM1865 199h1v2h-1zM1866 199h1v2h-1zM1867 199h1v2h-1zM1868 199h1v1h-1zM1869 199h1v1h-1zM1870 199h1v1h-1zM1871 199h1v1h-1zM1872 199h1v1h-1zM1873 199h1v1h-1zM1874 199h1v1h-1zM1882 199h1v1h-1zM1883 199h1v1h-1zM1884 199h1v1h-1zM1885 199h1v1h-1zM1886 199h1v1h-1zM1887 199h1v1h-1zM1888 199h1v1h-1zM1889 199h1v1h-1zM1890 199h1v1h-1zM1891 199h1v1h-1zM1892 199h1v1h-1zM1893 199h1v1h-1zM1894 199h1v1h-1zM1895 199h1v1h-1zM1896 199h1v1h-1zM1897 199h1v1h-1zM1898 199h1v1h-1zM1899 199h1v1h-1zM1919 199h1v1h-1z"/></svg>
</body></html>
